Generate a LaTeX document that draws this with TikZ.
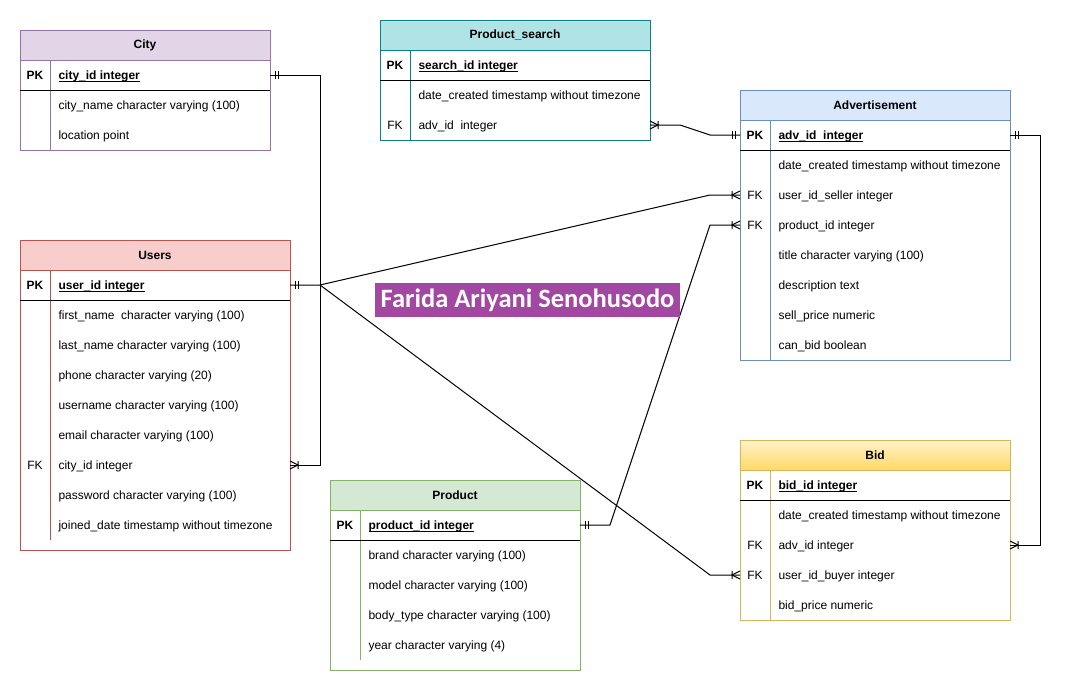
\documentclass[tikz,border=0pt]{standalone}
\usepackage{fontspec}
\setmainfont{Liberation Sans}
\newfontfamily\markfont{Carlito}
\usepackage{xcolor}
\usepackage{tikz}
\usetikzlibrary{calc}

\definecolor{cityfill}{HTML}{E1D5E7}
\definecolor{cityline}{HTML}{9673A6}
\definecolor{psfill}{HTML}{B0E3E6}
\definecolor{psline}{HTML}{0E8088}
\definecolor{advfill}{HTML}{DAE8FC}
\definecolor{advline}{HTML}{6C8EBF}
\definecolor{userfill}{HTML}{F8CECC}
\definecolor{userline}{HTML}{B85450}
\definecolor{prodfill}{HTML}{D5E8D4}
\definecolor{prodline}{HTML}{82B366}
\definecolor{bidtop}{HTML}{FFF2CC}
\definecolor{bidbottom}{HTML}{FFD966}
\definecolor{bidline}{HTML}{D6B656}
\definecolor{markpurple}{RGB}{162,71,162}

\newcommand{\pkname}[1]{\textbf{\underline{\smash{#1}}}}

\begin{document}
\begin{tikzpicture}[x=1pt, y=-1pt, line width=1pt,
  font=\fontsize{12}{14}\selectfont,
  head/.style={draw, minimum height=30pt, inner sep=0pt, outer sep=0pt, anchor=north west, font=\fontsize{12}{14}\selectfont\bfseries},
  body/.style={draw, inner sep=0pt, outer sep=0pt, anchor=north west},
  field/.style={anchor=west, inner sep=0pt, text height=8.6pt, text depth=0pt},
  key/.style={inner sep=0pt, text height=8.6pt, text depth=0pt},
  mandone/.pic={\draw (5,-4)--(5,4) (8,-4)--(8,4);},
  many/.pic={\draw (0,-4)--(8,0)--(0,4) (8,-4)--(8,4);}
]

\useasboundingbox (0,0) rectangle (1071,681);

% City
\node[head, draw=cityline, fill=cityfill, minimum width=250pt] (city-head) at (20,30) {City};
\node[body, draw=cityline, minimum width=250pt, minimum height=90pt] (city) at (20,60) {};
\draw[cityline] (50,60)--(50,150);
\draw (20,90)--(270,90);
\node[key] at (35,75) {\textbf{PK}};
\node[field] (city-pk) at (58,75) {\pkname{city\_id integer}};
\node[field] at (58,105) {city\_name character varying (100)};
\node[field] at (58,135) {location point};

% Product_search
\node[head, draw=psline, fill=psfill, minimum width=270pt] (ps-head) at (380,20) {Product\_search};
\node[body, draw=psline, minimum width=270pt, minimum height=90pt] (ps) at (380,50) {};
\draw[psline] (410,50)--(410,140);
\draw (380,80)--(650,80);
\node[key] at (395,65) {\textbf{PK}};
\node[field] at (418,65) {\pkname{search\_id integer}};
\node[field] at (418,95) {date\_created timestamp without timezone};
\node[key] at (395,125) {FK};
\node[field] (ps-adv) at (418,125) {adv\_id\ \ integer};

% Advertisement
\node[head, draw=advline, fill=advfill, minimum width=270pt] (adv-head) at (740,90) {Advertisement};
\node[body, draw=advline, minimum width=270pt, minimum height=240pt] (adv) at (740,120) {};
\draw[advline] (770,120)--(770,360);
\draw (740,150)--(1010,150);
\node[key] at (755,135) {\textbf{PK}};
\node[field] (adv-pk) at (778,135) {\pkname{adv\_id\ \ integer}};
\node[field] at (778,165) {date\_created timestamp without timezone};
\node[key] at (755,195) {FK};
\node[field] (adv-seller) at (778,195) {user\_id\_seller integer};
\node[key] at (755,225) {FK};
\node[field] (adv-product) at (778,225) {product\_id integer};
\node[field] at (778,255) {title character varying (100)};
\node[field] at (778,285) {description text};
\node[field] at (778,315) {sell\_price numeric};
\node[field] at (778,345) {can\_bid boolean};

% Users
\node[head, draw=userline, fill=userfill, minimum width=270pt] (users-head) at (20,240) {Users};
\node[body, draw=userline, minimum width=270pt, minimum height=280pt] (users) at (20,270) {};
\draw[userline] (50,270)--(50,540);
\draw (20,300)--(290,300);
\node[key] at (35,285) {\textbf{PK}};
\node[field] (users-pk) at (58,285) {\pkname{user\_id integer}};
\node[field] at (58,315) {first\_name\ \ character varying (100)};
\node[field] at (58,345) {last\_name character varying (100)};
\node[field] at (58,375) {phone character varying (20)};
\node[field] at (58,405) {username character varying (100)};
\node[field] at (58,435) {email character varying (100)};
\node[key] at (35,465) {FK};
\node[field] (users-city) at (58,465) {city\_id integer};
\node[field] at (58,495) {password character varying (100)};
\node[field] at (58,525) {joined\_date timestamp without timezone};

% Product
\node[head, draw=prodline, fill=prodfill, minimum width=250pt] (prod-head) at (330,480) {Product};
\node[body, draw=prodline, minimum width=250pt, minimum height=160pt] (prod) at (330,510) {};
\draw[prodline] (360,510)--(360,660);
\draw (330,540)--(580,540);
\node[key] at (345,525) {\textbf{PK}};
\node[field] (prod-pk) at (368,525) {\pkname{product\_id integer}};
\node[field] at (368,555) {brand character varying (100)};
\node[field] at (368,585) {model character varying (100)};
\node[field] at (368,615) {body\_type character varying (100)};
\node[field] at (368,645) {year character varying (4)};

% Bid
\node[head, draw=bidline, top color=bidtop, bottom color=bidbottom, minimum width=270pt] (bid-head) at (740,440) {Bid};
\node[body, draw=bidline, minimum width=270pt, minimum height=150pt] (bid) at (740,470) {};
\draw[bidline] (770,470)--(770,620);
\draw (740,500)--(1010,500);
\node[key] at (755,485) {\textbf{PK}};
\node[field] at (778,485) {\pkname{bid\_id integer}};
\node[field] at (778,515) {date\_created timestamp without timezone};
\node[key] at (755,545) {FK};
\node[field] (bid-adv) at (778,545) {adv\_id integer};
\node[key] at (755,575) {FK};
\node[field] (bid-buyer) at (778,575) {user\_id\_buyer integer};
\node[field] at (778,605) {bid\_price numeric};

% relations
\draw (city-pk -| city.east) -- ++(50,0) |- (users-city -| users.east);
\pic at (city-pk -| city.east) {mandone};
\pic at (users-city -| users.east) {many};

\draw (users-pk -| users.east) -- ++(30,0) -- ($(adv-seller -| adv.west)+(-30,0)$) -- (adv-seller -| adv.west);
\draw (users-pk -| users.east) ++(30,0) -- ($(bid-buyer -| bid.west)+(-30,0)$) -- (bid-buyer -| bid.west);
\pic at (users-pk -| users.east) {mandone};
\pic[rotate=180] at (adv-seller -| adv.west) {many};
\pic[rotate=180] at (bid-buyer -| bid.west) {many};

\draw (prod-pk -| prod.east) -- ++(30,0) -- ($(adv-product -| adv.west)+(-30,0)$) -- (adv-product -| adv.west);
\pic at (prod-pk -| prod.east) {mandone};
\pic[rotate=180] at (adv-product -| adv.west) {many};

\draw (ps-adv -| ps.east) -- ++(30,0) -- ($(adv-pk -| adv.west)+(-30,0)$) -- (adv-pk -| adv.west);
\pic at (ps-adv -| ps.east) {many};
\pic[rotate=180] at (adv-pk -| adv.west) {mandone};

\draw (adv-pk -| adv.east) -- ++(30,0) |- (bid-adv -| bid.east);
\pic at (adv-pk -| adv.east) {mandone};
\pic at (bid-adv -| bid.east) {many};

% watermark
\node[fill=markpurple, text=white, inner sep=0pt, minimum width=305pt, minimum height=34pt,
  font=\markfont\bfseries\fontsize{26.5}{30}\selectfont] (author) at (527.5,300) {Farida Ariyani Senohusodo};

\end{tikzpicture}
\end{document}
